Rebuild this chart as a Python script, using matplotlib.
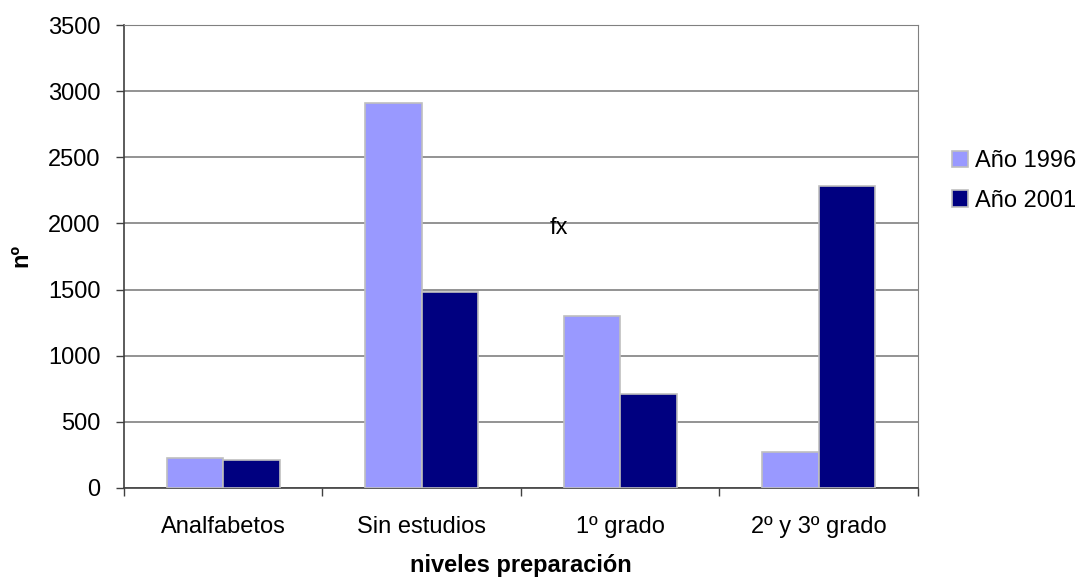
import numpy as np
import matplotlib.pyplot as plt

# Datos
categorias = ['Analfabetos', 'Sin estudios', '1º grado', '2º y 3º grado']
anio_1996 = [230, 2910, 1300, 270]
anio_2001 = [210, 1480, 710, 2280]

plt.rcParams['font.family'] = ['Liberation Sans', 'DejaVu Sans']
tam = 17

fig = plt.figure(figsize=(10.79, 5.78), dpi=100)
ax = fig.add_axes([124 / 1079, 90 / 578, (918 - 124) / 1079, (488 - 25) / 578])

x = np.arange(len(categorias))
ancho = 1 / 3.5
ax.bar(x - ancho / 2, anio_1996, ancho, color='#9999FF', edgecolor='#BFBFBF', linewidth=1.2, label='Año 1996', zorder=3)
ax.bar(x + ancho / 2, anio_2001, ancho, color='#000080', edgecolor='#BFBFBF', linewidth=1.2, label='Año 2001', zorder=3)

ax.set_xlim(-0.5, 3.5)
ax.set_ylim(0, 3500)
ax.set_yticks(np.arange(0, 3501, 500))
ax.yaxis.grid(True, color='#808080', linewidth=1.2, zorder=0)
ax.set_axisbelow(True)

# ticks del eje x entre categorías, etiquetas en el centro
ax.set_xticks(np.arange(-0.5, 4, 1))
ax.set_xticklabels([])
ax.set_xticks(x, minor=True)
ax.set_xticklabels(categorias, minor=True, fontsize=tam)
ax.tick_params(axis='x', which='minor', length=0, pad=20)
ax.tick_params(axis='x', which='major', length=6, width=1, color='#404040')
ax.tick_params(axis='y', length=6, width=1, labelsize=tam, pad=11, color='#404040')

for lado in ['top', 'right']:
    ax.spines[lado].set_color('#808080')
for lado in ['left', 'bottom']:
    ax.spines[lado].set_color('#404040')
    ax.spines[lado].set_linewidth(1.2)

ax.set_xlabel('niveles preparación', fontsize=tam, fontweight='bold', labelpad=12)
fig.text(21 / 1079, 1 - 255 / 578, 'nº', fontsize=tam, fontweight='bold',
         rotation=90, ha='center', va='center')

fig.text(559 / 1079, 1 - 228 / 578, 'fx', fontsize=tam, ha='center', va='center')

fig.legend(loc='center left', bbox_to_anchor=(952 / 1079, 1 - 181 / 578), frameon=False,
           fontsize=tam, handlelength=0.68, handleheight=0.68, handletextpad=0.3,
           labelspacing=0.75, borderpad=0, borderaxespad=0)

fig.savefig('out.png', dpi=100)
